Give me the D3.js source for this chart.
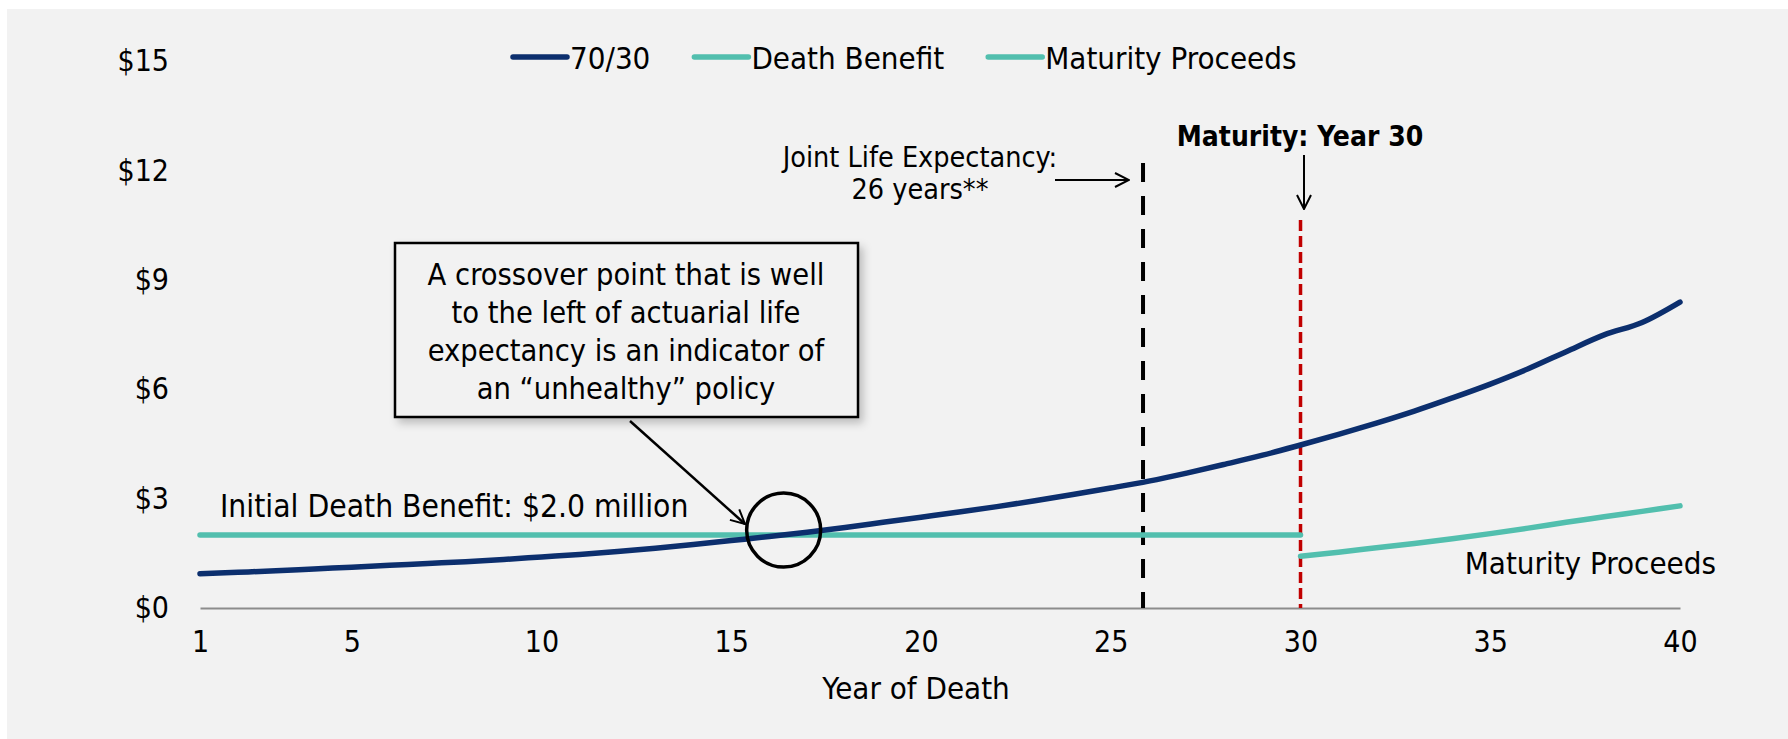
<!DOCTYPE html>
<html>
<head>
<meta charset="utf-8">
<script src="https://cdn.jsdelivr.net/npm/d3@7"></script>
<style>
  body { margin: 0; background: #fff; }
  text { font-family: "DejaVu Sans Condensed", "DejaVu Sans", sans-serif; font-stretch: condensed; fill: #000; }
</style>
</head>
<body>
<svg id="chart" width="1788" height="739"></svg>
<script>
// data ($ millions)
var years = d3.range(1, 41);
var policy7030 = [0.94, 0.98, 1.02, 1.07, 1.12, 1.17, 1.22, 1.27, 1.33, 1.40,
                  1.47, 1.55, 1.64, 1.74, 1.85, 1.96, 2.08, 2.21, 2.35, 2.49,
                  2.63, 2.78, 2.94, 3.11, 3.29, 3.48, 3.70, 3.94, 4.19, 4.47,
                  4.76, 5.07, 5.40, 5.76, 6.14, 6.56, 7.03, 7.49, 7.83, 8.39];
var dbYears = d3.range(1, 31);
var deathBenefit = dbYears.map(function() { return 2.0; });
var maturityYears = d3.range(30, 41);
var maturityProceeds = [1.42, 1.53, 1.65, 1.77, 1.90, 2.04, 2.19, 2.35, 2.50, 2.65, 2.80];

var seriesNames = ["70/30", "Death Benefit", "Maturity Proceeds"];
var seriesColors = ["#0c2f6e", "#52bfae", "#52bfae"];
var xTicks = [1, 5, 10, 15, 20, 25, 30, 35, 40];
var yTicks = [0, 3, 6, 9, 12, 15];
var jointLE = 25.85, maturityYear = 30, crossYear = 16.38;

var svg = d3.select("#chart");

// grey panel
svg.append("rect").attr("x", 7).attr("y", 9).attr("width", 1781).attr("height", 730).attr("fill", "#f2f2f2");

var defs = svg.append("defs");
var shadow = defs.append("filter").attr("id", "shadow").attr("x", "-10%").attr("y", "-10%").attr("width", "130%").attr("height", "140%");
shadow.append("feDropShadow").attr("dx", 4).attr("dy", 5).attr("stdDeviation", 4)
  .attr("flood-color", "#000").attr("flood-opacity", 0.22);
defs.append("marker").attr("id", "head")
  .attr("viewBox", "0 0 16 16").attr("refX", 15).attr("refY", 8)
  .attr("markerWidth", 16).attr("markerHeight", 16)
  .attr("markerUnits", "userSpaceOnUse").attr("orient", "auto")
  .append("path").attr("d", "M1,1 L15,8 L1,15")
  .attr("fill", "none").attr("stroke", "#000").attr("stroke-width", 2);

var x = d3.scaleLinear().domain([1, 40]).range([200, 1680]);
var y = d3.scaleLinear().domain([0, 15]).range([608, 61]);

// axes
var xAxis = svg.append("g")
  .attr("transform", "translate(0," + y(0) + ")")
  .call(d3.axisBottom(x).tickValues(xTicks).tickSize(0).tickSizeOuter(0).tickPadding(23));
xAxis.select(".domain").attr("stroke", "#8c8c8c").attr("stroke-width", 2);
xAxis.selectAll("text").style("font-size", "30px").attr("fill", "#000");

var yAxis = svg.append("g")
  .attr("transform", "translate(" + x(1) + ",0)")
  .call(d3.axisLeft(y).tickValues(yTicks).tickSize(0).tickPadding(31)
    .tickFormat(function(d) { return "$" + d; }));
yAxis.select(".domain").remove();
yAxis.selectAll("text").style("font-size", "30px").attr("fill", "#000");

svg.append("text").attr("x", 916).attr("y", 699).attr("text-anchor", "middle")
  .style("font-size", "31px").text("Year of Death");

// vertical markers
svg.append("line").attr("x1", x(jointLE)).attr("x2", x(jointLE)).attr("y1", 163).attr("y2", y(0))
  .attr("stroke", "#000").attr("stroke-width", 4).attr("stroke-dasharray", "19,14");
svg.append("line").attr("x1", x(maturityYear)).attr("x2", x(maturityYear)).attr("y1", 220).attr("y2", y(0))
  .attr("stroke", "#c00000").attr("stroke-width", 3.5).attr("stroke-dasharray", "11,5");

// series
var line = d3.line().x(function(d) { return x(d[0]); }).y(function(d) { return y(d[1]); })
  .curve(d3.curveMonotoneX);
var series = [
  d3.zip(dbYears, deathBenefit),
  d3.zip(maturityYears, maturityProceeds),
  d3.zip(years, policy7030)
];
var seriesColor = [seriesColors[1], seriesColors[2], seriesColors[0]];
svg.selectAll("path.series").data(series).enter().append("path")
  .attr("class", "series")
  .attr("d", line)
  .attr("fill", "none")
  .attr("stroke", function(d, i) { return seriesColor[i]; })
  .attr("stroke-width", 5.5)
  .attr("stroke-linecap", "round");

// legend
var lx = 513;
seriesNames.forEach(function(name, i) {
  svg.append("line").attr("x1", lx).attr("x2", lx + 54).attr("y1", 57).attr("y2", 57)
    .attr("stroke", seriesColors[i]).attr("stroke-width", 5.5).attr("stroke-linecap", "round");
  var t = svg.append("text").attr("x", lx + 57).attr("y", 69).style("font-size", "31px").text(name);
  lx = lx + 57 + t.node().getComputedTextLength() + 44;
});

// annotations
svg.append("text").attr("x", 220).attr("y", 517).style("font-size", "31.5px")
  .text("Initial Death Benefit: $2.0 million");
svg.append("text").attr("x", 1716).attr("y", 574).attr("text-anchor", "end").style("font-size", "31px")
  .text("Maturity Proceeds");

var jle = svg.append("text").attr("text-anchor", "middle").style("font-size", "28.5px");
jle.append("tspan").attr("x", 920).attr("y", 167).text("Joint Life Expectancy:");
jle.append("tspan").attr("x", 920).attr("y", 199).text("26 years**");
svg.append("line").attr("x1", 1055).attr("x2", 1129).attr("y1", 180).attr("y2", 180)
  .attr("stroke", "#000").attr("stroke-width", 2).attr("marker-end", "url(#head)");

svg.append("text").attr("x", 1300).attr("y", 146).attr("text-anchor", "middle")
  .style("font-size", "28px").style("font-weight", "bold").text("Maturity: Year 30");
svg.append("line").attr("x1", 1304).attr("x2", 1304).attr("y1", 155).attr("y2", 209)
  .attr("stroke", "#000").attr("stroke-width", 2).attr("marker-end", "url(#head)");

// call-out box
svg.append("rect").attr("x", 395).attr("y", 243).attr("width", 463).attr("height", 174)
  .attr("fill", "#f2f2f2").attr("stroke", "#000").attr("stroke-width", 2.5)
  .attr("filter", "url(#shadow)");
var boxLines = ["A crossover point that is well", "to the left of actuarial life",
                "expectancy is an indicator of", "an \u201cunhealthy\u201d policy"];
svg.append("text").attr("text-anchor", "middle").style("font-size", "30.5px")
  .selectAll("tspan").data(boxLines).enter().append("tspan")
  .attr("x", 626).attr("y", function(d, i) { return 285 + i * 38; }).text(function(d) { return d; });
svg.append("line").attr("x1", 630).attr("y1", 421).attr("x2", 745).attr("y2", 524)
  .attr("stroke", "#000").attr("stroke-width", 2.5).attr("marker-end", "url(#head)");

// crossover circle
svg.append("circle").attr("cx", x(crossYear)).attr("cy", y(2.0) - 5).attr("r", 37)
  .attr("fill", "none").attr("stroke", "#000").attr("stroke-width", 3.5);
</script>
</body>
</html>
